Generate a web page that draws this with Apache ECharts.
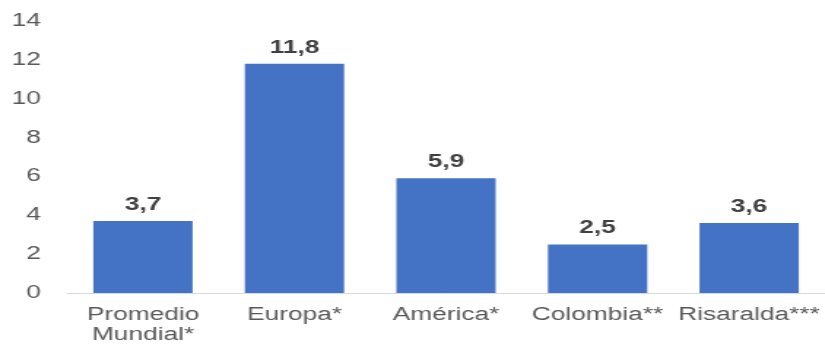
<!DOCTYPE html>
<html>
<head>
<meta charset="utf-8">
<script src="https://cdn.jsdelivr.net/npm/echarts@6/dist/echarts.min.js"></script>
<style>
  html, body { margin: 0; padding: 0; background: #fff; overflow: hidden; }
  #wrap { width: 825px; height: 345px; overflow: hidden; }
  /* the chart is laid out narrow and widened, giving the broad lettering */
  #chart { width: 565px; height: 345px; transform: scaleX(1.46); transform-origin: 0 0; }
</style>
</head>
<body>
<div id="wrap"><div id="chart"></div></div>
<script>
// Categories and values shown on the bar chart
const categories = ['Promedio\nMundial*', 'Europa*', 'América*', 'Colombia**', 'Risaralda***'];
const values = [3.7, 11.8, 5.9, 2.5, 3.6];
const yTicks = [0, 2, 4, 6, 8, 10, 12, 14];

const chart = echarts.init(document.getElementById('chart'), null, { renderer: 'canvas' });

const font = 'Liberation Sans, Arial, sans-serif';

chart.setOption({
  animation: false,
  backgroundColor: '#ffffff',
  grid: { left: 46, top: 21, width: 522, height: 276, containLabel: false },
  xAxis: {
    type: 'category',
    data: categories,
    axisLine: { lineStyle: { color: '#d9d9d9', width: 1 } },
    axisTick: { show: false },
    axisLabel: {
      color: '#595959',
      fontFamily: font,
      fontSize: 18,
      lineHeight: 20,
      margin: 12,
      interval: 0
    }
  },
  yAxis: {
    type: 'value',
    min: yTicks[0],
    max: yTicks[yTicks.length - 1],
    interval: 2,
    axisLine: { show: false },
    axisTick: { show: false },
    splitLine: { show: false },
    axisLabel: {
      color: '#595959',
      fontFamily: font,
      fontSize: 18,
      margin: 18
    }
  },
  series: [{
    type: 'bar',
    data: values,
    barWidth: '65.5%',
    itemStyle: { color: '#4472c4' },
    label: {
      show: true,
      position: 'top',
      distance: 7,
      color: '#404040',
      fontFamily: font,
      fontWeight: 'bold',
      fontSize: 18,
      formatter: p => String(p.value).replace('.', ',')
    }
  }]
});
</script>
</body>
</html>
